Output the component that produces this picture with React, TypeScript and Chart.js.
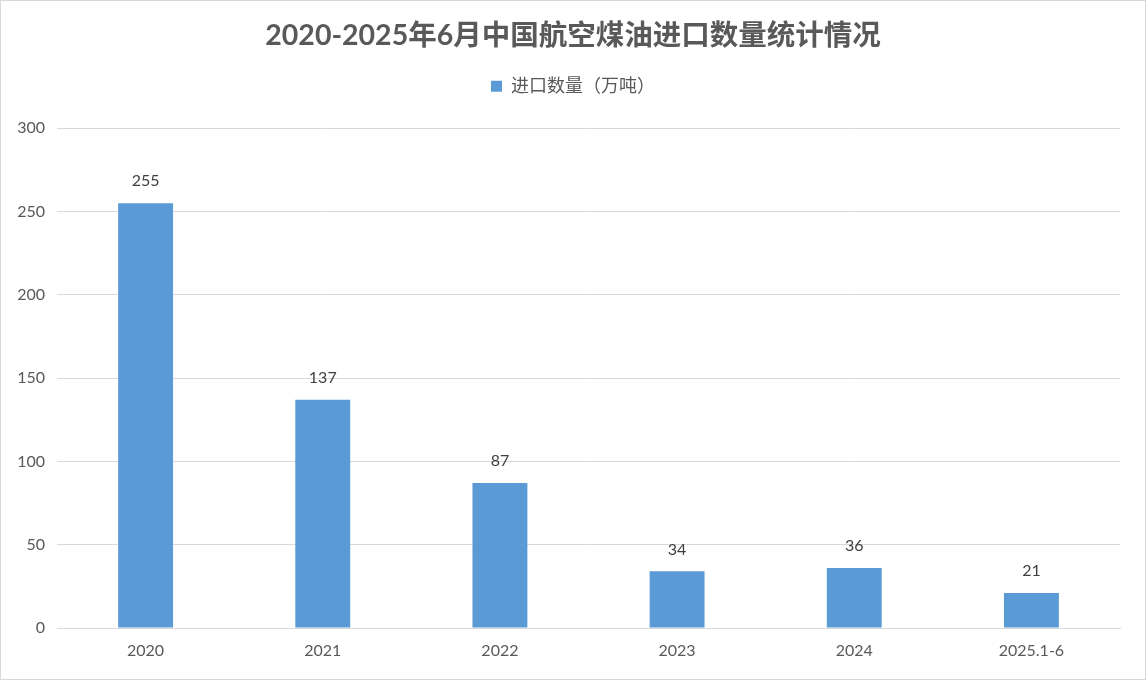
import React, { useEffect, useRef } from "react";
import { Chart, registerables } from "chart.js";

Chart.register(...registerables);

const categories = ["2020", "2021", "2022", "2023", "2024", "2025.1-6"];
const importVolume = [255, 137, 87, 34, 36, 21];
const seriesLabel = "进口数量（万吨）";
const chartTitle = "2020-2025年6月中国航空煤油进口数量统计情况";
const yTicks = [0, 50, 100, 150, 200, 250, 300];

const FONT = 'Lato, "Noto Sans CJK SC", sans-serif';

export default function App() {
  const ref = useRef<HTMLCanvasElement | null>(null);

  useEffect(() => {
    document.body.style.margin = "0";
    const canvas = ref.current;
    if (!canvas) return;

    const labelPlugin = {
      id: "valueLabels",
      afterDatasetsDraw(chart: any) {
        const ctx = chart.ctx;
        const meta = chart.getDatasetMeta(0);
        ctx.save();
        ctx.font = `16px ${FONT}`;
        ctx.fillStyle = "#404040";
        ctx.textAlign = "center";
        ctx.textBaseline = "bottom";
        meta.data.forEach((el: any, i: number) => {
          ctx.fillText(String(importVolume[i]), el.x, el.y - 14);
        });
        ctx.restore();
      },
    };

    const borderPlugin = {
      id: "frame",
      beforeDraw(chart: any) {
        const ctx = chart.ctx;
        ctx.save();
        ctx.fillStyle = "#ffffff";
        ctx.fillRect(0, 0, chart.width, chart.height);
        ctx.restore();
      },
      afterDraw(chart: any) {
        const ctx = chart.ctx;
        ctx.save();
        ctx.strokeStyle = "#D9D9D9";
        ctx.lineWidth = 1;
        ctx.strokeRect(0.5, 0.5, chart.width - 1, chart.height - 1);
        ctx.restore();
      },
    };

    const legendMargin = {
      id: "legendMargin",
      beforeInit(chart: any) {
        const legend = chart.legend;
        const fit = legend.fit;
        legend.fit = function () {
          fit.bind(legend)();
          this.height += 23;
        };
      },
    };

    const chart = new Chart(canvas, {
      type: "bar",
      data: {
        labels: categories,
        datasets: [
          {
            label: seriesLabel,
            data: importVolume,
            backgroundColor: "#5B9BD5",
            borderWidth: 0,
            barPercentage: 0.62,
            categoryPercentage: 0.5,
          },
        ],
      },
      options: {
        responsive: false,
        animation: false,
        layout: { padding: { left: 13, right: 13, top: 0, bottom: 12 } },
        plugins: {
          title: {
            display: true,
            text: chartTitle,
            color: "#595959",
            font: { family: FONT, size: 28.5, weight: "bold" },
            padding: { top: 19, bottom: 14 },
          },
          legend: {
            display: true,
            position: "top",
            labels: {
              color: "#595959",
              font: { family: FONT, size: 18 },
              boxWidth: 11,
              boxHeight: 11,
              padding: 10,
            },
          },
          tooltip: { enabled: false },
        },
        scales: {
          x: {
            grid: { display: false, drawTicks: false },
            border: { display: true, color: "#D9D9D9", width: 1 },
            ticks: {
              color: "#595959",
              font: { family: FONT, size: 16 },
              padding: 13,
            },
            afterFit(scale: any) {
              scale.height = 40;
            },
          },
          y: {
            min: 0,
            max: 300,
            afterBuildTicks(scale: any) {
              scale.ticks = yTicks.map((v) => ({ value: v }));
            },
            grid: { color: "#D9D9D9", lineWidth: 1, drawTicks: false },
            border: { display: false },
            ticks: {
              color: "#595959",
              font: { family: FONT, size: 16 },
              padding: 12,
            },
            afterFit(scale: any) {
              scale.width = 44;
            },
          },
          spacer: {
            type: "linear",
            position: "right",
            min: 0,
            max: 300,
            grid: { display: false, drawTicks: false },
            border: { display: false },
            ticks: { display: false },
            afterFit(scale: any) {
              scale.width = 13;
            },
          },
        },
      },
      plugins: [labelPlugin, borderPlugin, legendMargin],
    });

    return () => chart.destroy();
  }, []);

  return (
    <div style={{ width: 1146, height: 680 }}>
      <canvas ref={ref} width={1146} height={680} />
    </div>
  );
}
